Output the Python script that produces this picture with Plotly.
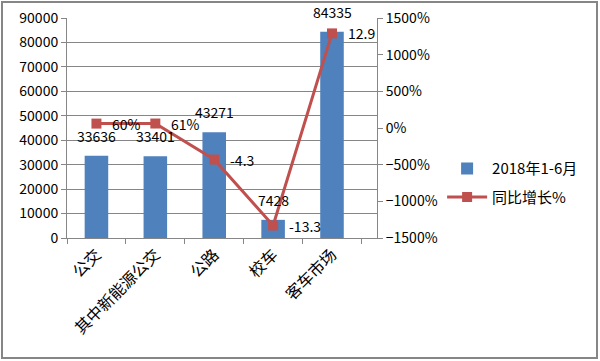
import plotly.graph_objects as go

categories = ["公交", "其中新能源公交", "公路", "校车", "客车市场"]
sales_2018 = [33636, 33401, 43271, 7428, 84335]
growth = [0.60, 0.61, -4.3, -13.3, 12.9]
growth_labels = ["60%", "61%", "-4.3", "-13.3", "12.9"]

FONT = "Noto Sans CJK SC, Liberation Sans, sans-serif"
GRID = "#868686"

fig = go.Figure()
fig.add_trace(go.Bar(
    x=categories, y=sales_2018, name="2018年1-6月",
    marker=dict(color="#4F81BD", line=dict(width=0)),
    width=0.4, yaxis="y", legendgroup="a",
))
fig.add_trace(go.Scatter(
    x=categories, y=growth, name="同比增长%", mode="lines+markers",
    line=dict(color="#C0504D", width=3),
    marker=dict(symbol="square", size=10, color="#C0504D"),
    cliponaxis=False, yaxis="y2", legendgroup="b",
))

annotations = []
for c, v in zip(categories, sales_2018):
    annotations.append(dict(
        x=c, y=v, xref="x", yref="y", text=str(v), showarrow=False,
        yanchor="bottom", xanchor="center", yshift=8,
        font=dict(size=14, color="black", family=FONT),
    ))
for c, g, t in zip(categories, growth, growth_labels):
    annotations.append(dict(
        x=c, y=g, xref="x", yref="y2", text=t, showarrow=False,
        yanchor="middle", xanchor="left", xshift=14,
        font=dict(size=14, color="black", family=FONT),
    ))

fig.update_layout(
    width=600, height=361,
    margin=dict(l=67, r=223, t=18, b=123, autoexpand=False),
    plot_bgcolor="white", paper_bgcolor="white",
    font=dict(family=FONT, size=14, color="black"),
    bargap=0.6,
    annotations=annotations,
    xaxis=dict(
        type="category", tickangle=-45, showline=True, linecolor=GRID, linewidth=1,
        ticks="outside", tickson="boundaries", ticklen=5, tickcolor=GRID,
        showgrid=False, tickfont=dict(size=16, family=FONT), automargin=False,
    ),
    yaxis=dict(
        range=[0, 90000], dtick=10000, tickformat="d", showline=True,
        linecolor=GRID, linewidth=1, automargin=False,
        ticks="outside", ticklen=5, tickcolor=GRID, showgrid=True, gridcolor=GRID,
        gridwidth=1, zeroline=False, tickfont=dict(size=14),
    ),
    yaxis2=dict(
        overlaying="y", side="right", range=[-15, 15], dtick=5, tickformat=".0%",
        showline=True, linecolor=GRID, linewidth=1, ticks="outside", ticklen=5,
        tickcolor=GRID, showgrid=False, zeroline=False, tickfont=dict(size=14),
        automargin=False,
    ),
    legend=dict(
        x=1.21, y=0.39, xanchor="left", yanchor="top",
        font=dict(size=15), bgcolor="rgba(0,0,0,0)", itemwidth=40,
        tracegroupgap=6,
    ),
    shapes=[dict(
        type="rect", xref="paper", yref="paper",
        x0=-65/310, x1=530/310, y0=-120/220, y1=236/220,
        line=dict(color="#868686", width=2),
    )],
)

fig.write_html("out.html", config={"displayModeBar": False},
               post_script="document.body.style.margin='0';")
